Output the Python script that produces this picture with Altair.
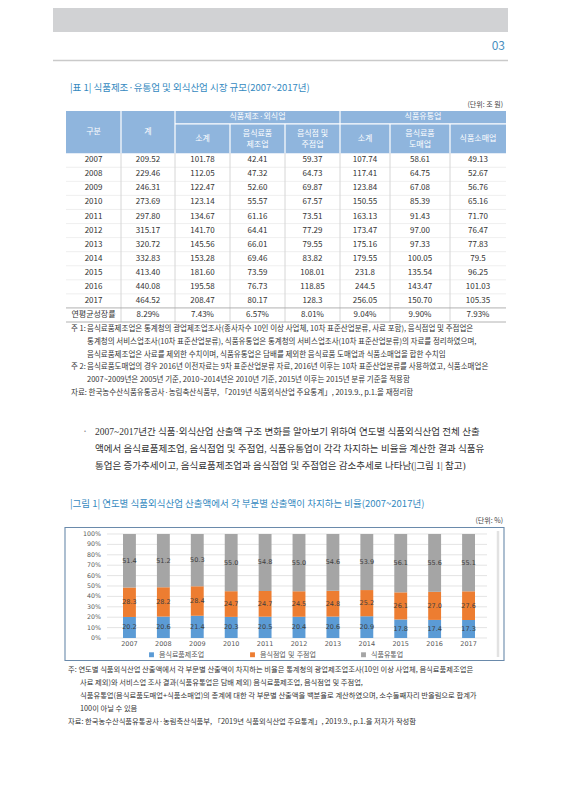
import altair as alt
import pandas as pd

KR = "Noto Sans CJK KR"
CH = "DejaVu Sans, Noto Sans CJK KR"
PARA = "Liberation Serif, Noto Sans CJK KR"
W = 554

# ---------------- data ----------------
page_no = "03"
table_title = "|표 1| 식품제조·유통업 및 외식산업 시장 규모(2007~2017년)"
table_unit = "(단위: 조 원)"
group_heads = ["식품제조·외식업", "식품유통업"]
col_heads = ["구분", "계", "소계", "음식료품\n제조업", "음식점 및\n주점업", "소계", "음식료품\n도매업", "식품소매업"]
years = ["2007", "2008", "2009", "2010", "2011", "2012", "2013", "2014", "2015", "2016", "2017"]
col_total = ["209.52", "229.46", "246.31", "273.69", "297.80", "315.17", "320.72", "332.83", "413.40", "440.08", "464.52"]
col_mfg_sub = ["101.78", "112.05", "122.47", "123.14", "134.67", "141.70", "145.56", "153.28", "181.60", "195.58", "208.47"]
col_food_mfg = ["42.41", "47.32", "52.60", "55.57", "61.16", "64.41", "66.01", "69.46", "73.59", "76.73", "80.17"]
col_restaurant = ["59.37", "64.73", "69.87", "67.57", "73.51", "77.29", "79.55", "83.82", "108.01", "118.85", "128.3"]
col_dist_sub = ["107.74", "117.41", "123.84", "150.55", "163.13", "173.47", "175.16", "179.55", "231.8", "244.5", "256.05"]
col_wholesale = ["58.61", "64.75", "67.08", "85.39", "91.43", "97.00", "97.33", "100.05", "135.54", "143.47", "150.70"]
col_retail = ["49.13", "52.67", "56.76", "65.16", "71.70", "76.47", "77.83", "79.5", "96.25", "101.03", "105.35"]
growth_label = "연평균성장률"
growth = ["8.29%", "7.43%", "6.57%", "8.01%", "9.04%", "9.90%", "7.93%"]

note1_label = "주 1:"
note1 = ["음식료품제조업은 통계청의 광업제조업조사(종사자수 10인 이상 사업체, 10차 표준산업분류, 사료 포함), 음식점업 및 주점업은",
         "통계청의 서비스업조사(10차 표준산업분류), 식품유통업은 통계청의 서비스업조사(10차 표준산업분류)의 자료를 정리하였으며,",
         "음식료품제조업은 사료를 제외한 수치이며, 식품유통업은 담배를 제외한 음식료품 도매업과 식품소매업을 합한 수치임"]
note2_label = "주 2:"
note2 = ["음식료품도매업의 경우 2016년 이전자료는 9차 표준산업분류 자료, 2016년 이후는 10차 표준산업분류를 사용하였고, 식품소매업은",
         "2007~2009년은 2005년 기준, 2010~2014년은 2010년 기준, 2015년 이후는 2015년 분류 기준을 적용함"]
table_source = "자료: 한국농수산식품유통공사·농림축산식품부, 「2019년 식품외식산업 주요통계」, 2019.9., p.1.을 재정리함"

bullet = "·"
paragraph = ["2007~2017년간 식품·외식산업 산출액 구조 변화를 알아보기 위하여 연도별 식품외식산업 전체 산출",
             "액에서 음식료품제조업, 음식점업 및 주점업, 식품유통업이 각각 차지하는 비율을 계산한 결과 식품유",
             "통업은 증가추세이고, 음식료품제조업과 음식점업 및 주점업은 감소추세로 나타남(|그림 1| 참고)"]

fig_title = "|그림 1| 연도별 식품외식산업 산출액에서 각 부문별 산출액이 차지하는 비율(2007~2017년)"
fig_unit = "(단위: %)"
series = ["음식료품제조업", "음식점업 및 주점업", "식품유통업"]
share_food_mfg = [20.2, 20.6, 21.4, 20.3, 20.5, 20.4, 20.6, 20.9, 17.8, 17.4, 17.3]
share_restaurant = [28.3, 28.2, 28.4, 24.7, 24.7, 24.5, 24.8, 25.2, 26.1, 27.0, 27.6]
share_distribution = [51.4, 51.2, 50.3, 55.0, 54.8, 55.0, 54.6, 53.9, 56.1, 55.6, 55.1]
y_ticks = [0.0, 0.1, 0.2, 0.3, 0.4, 0.5, 0.6, 0.7, 0.8, 0.9, 1.0]
y_tick_labels = ["0%", "10%", "20%", "30%", "40%", "50%", "60%", "70%", "80%", "90%", "100%"]

fig_notes = ["주: 연도별 식품외식산업 산출액에서 각 부문별 산출액이 차지하는 비율은 통계청의 광업제조업조사(10인 이상 사업체, 음식료품제조업은",
             "사료 제외)와 서비스업 조사 결과(식품유통업은 담배 제외) 음식료품제조업, 음식점업 및 주점업,",
             "식품유통업(음식료품도매업+식품소매업)의 총계에 대한 각 부문별 산출액을 백분율로 계산하였으며, 소수둘째자리 반올림으로 합계가",
             "100이 아닐 수 있음"]
fig_source = "자료:  한국농수산식품유통공사·농림축산식품부, 「2019년 식품외식산업 주요통계」, 2019.9., p.1.을 저자가 작성함"

# ---------------- styles / layout ----------------
BLUE_TITLE = "#3489c0"
TXT = "#333333"
HEAD_BG = "#8fb5dd"
BAR_COLORS = ["#5b9bd5", "#ed7d31", "#a5a5a5"]
H1, H2, H3, H4, H5 = 103, 211, 205, 134, 74

one = pd.DataFrame({"k": [0]})


def text_block(s, x, y, size, color=TXT, align="left", font=KR, lh=None):
    df = pd.DataFrame({"t": [s]})
    props = dict(align=align, baseline="top", fontSize=size, color=color, font=font)
    if lh:
        props.update(lineBreak="\n", lineHeight=lh)
    return alt.Chart(df).mark_text(**props).encode(
        text="t:N", x=alt.value(x), y=alt.value(y - 0.41 * size))


# ---------------- panel 1: header + table title ----------------
band = alt.Chart(one).mark_rect(color="#d1d2d4").encode(
    x=alt.value(45), x2=alt.value(500), y=alt.value(0), y2=alt.value(24))
hline = alt.Chart(one).mark_rule(color="#cacaca", strokeWidth=1.5).encode(
    x=alt.value(45), x2=alt.value(500), y=alt.value(52.5))
p1 = alt.layer(
    band, hline,
    text_block(page_no, 497, 37.5, 12, color="#4a8fc0", align="right"),
    text_block(table_title, 62, 79, 9.5, color=BLUE_TITLE),
    text_block(table_unit, 495, 96, 7, color="#444444", align="right"),
).properties(width=W, height=H1)

# ---------------- panel 2: table ----------------
E = [58, 113, 167, 222, 277, 332, 382, 442, 498]
R1 = 0.92
xs = alt.Scale(domain=[0, W], nice=False, zero=False)
ys = alt.Scale(domain=[0, 15], reverse=True, nice=False, zero=False)

head_bg = pd.DataFrame({"x0": [E[0]], "x1": [E[-1]], "y0": [0], "y1": [3]})
white_lines = pd.DataFrame(
    [{"x0": E[i], "x1": E[i], "y0": 0, "y1": 3} for i in (1, 2, 5)]
    + [{"x0": E[i], "x1": E[i], "y0": R1, "y1": 3} for i in (3, 4, 6, 7)]
    + [{"x0": E[2], "x1": E[8], "y0": R1, "y1": R1}])
vlines = pd.DataFrame([{"x0": E[i], "x1": E[i], "y0": 3, "y1": 15} for i in range(1, 8)])
faint = pd.DataFrame([{"x0": E[0], "x1": E[8], "y0": 3 + i, "y1": 3 + i} for i in range(1, 11)])
strong = pd.DataFrame([{"x0": E[0], "x1": E[8], "y0": v, "y1": v} for v in (14, 15)])

cols = [years, col_total, col_mfg_sub, col_food_mfg, col_restaurant, col_dist_sub, col_wholesale, col_retail]
cells = []
for r in range(len(years)):
    for c in range(8):
        cells.append({"xc": (E[c] + E[c + 1]) / 2, "yc": 3.5 + r, "t": cols[c][r]})
growth_row = [growth_label] + growth
for c in range(8):
    cells.append({"xc": (E[c] + E[c + 1]) / 2, "yc": 14.5, "t": growth_row[c]})
cells = pd.DataFrame(cells)

head_single = pd.DataFrame([
    {"xc": (E[0] + E[1]) / 2, "yc": 1.5, "t": col_heads[0]},
    {"xc": (E[1] + E[2]) / 2, "yc": 1.5, "t": col_heads[1]},
    {"xc": (E[2] + E[5]) / 2, "yc": R1 / 2, "t": group_heads[0]},
    {"xc": (E[5] + E[8]) / 2, "yc": R1 / 2, "t": group_heads[1]},
] + [{"xc": (E[c] + E[c + 1]) / 2, "yc": (R1 + 3) / 2, "t": col_heads[c]}
     for c in range(2, 8) if "\n" not in col_heads[c]])
head_multi = pd.DataFrame([{"xc": (E[c] + E[c + 1]) / 2, "yc": (R1 + 3) / 2, "t": col_heads[c]}
                           for c in range(2, 8) if "\n" in col_heads[c]])


def seg(df, **kw):
    return alt.Chart(df).mark_rule(**kw).encode(
        x=alt.X("x0:Q", scale=xs, axis=None), x2="x1:Q",
        y=alt.Y("y0:Q", scale=ys, axis=None), y2="y1:Q")


tbl_bg = alt.Chart(head_bg).mark_rect(color=HEAD_BG).encode(
    x=alt.X("x0:Q", scale=xs, axis=None), x2="x1:Q",
    y=alt.Y("y0:Q", scale=ys, axis=None), y2="y1:Q")
tbl_cells = alt.Chart(cells).mark_text(fontSize=8, font=KR, color=TXT, baseline="middle").encode(
    x=alt.X("xc:Q", scale=xs, axis=None), y=alt.Y("yc:Q", scale=ys, axis=None), text="t:N")
tbl_head1 = alt.Chart(head_single).mark_text(fontSize=8, font=KR, color="white", baseline="middle").encode(
    x=alt.X("xc:Q", scale=xs, axis=None), y=alt.Y("yc:Q", scale=ys, axis=None), text="t:N")
tbl_head2 = alt.Chart(head_multi).mark_text(
    fontSize=8, font=KR, color="white", baseline="top", lineBreak="\n", lineHeight=11.5,
    dy=-(11.5 / 2) - 0.41 * 8).encode(
    x=alt.X("xc:Q", scale=xs, axis=None), y=alt.Y("yc:Q", scale=ys, axis=None), text="t:N")

p2 = alt.layer(
    tbl_bg,
    seg(white_lines, color="white", strokeWidth=1.2),
    seg(faint, color="#ebebeb", strokeWidth=0.8),
    seg(vlines, color="#d6d6d6", strokeWidth=1),
    seg(strong, color="#a9a9a9", strokeWidth=0.9),
    tbl_head1, tbl_head2, tbl_cells,
).properties(width=W, height=H2)

# ---------------- panel 3: notes, paragraph, figure title ----------------
p3 = alt.layer(
    text_block(note1_label, 63, 6, 7.5),
    text_block("\n".join(note1), 79, 6, 7.5, lh=12.8),
    text_block(note2_label, 63, 6 + 3 * 12.8, 7.5),
    text_block("\n".join(note2), 79, 6 + 3 * 12.8, 7.5, lh=12.8),
    text_block(table_source, 63, 6 + 5 * 12.8, 7.5),
    text_block(bullet, 77, 109, 10, color="#888888", align="center"),
    text_block("\n".join(paragraph), 87, 109, 9.5, font=PARA, lh=17),
    text_block(fig_title, 62, 181, 9.5, color=BLUE_TITLE),
    text_block(fig_unit, 495, 198, 7, color="#444444", align="right"),
).properties(width=W, height=H3)

# ---------------- panel 4: stacked bar chart ----------------
bar_rows = []
for i, y in enumerate(years):
    for k, vals in enumerate([share_food_mfg, share_restaurant, share_distribution]):
        bar_rows.append({"year": y, "series": series[k], "value": vals[i], "ord": k})
bar_df = pd.DataFrame(bar_rows)
tick_df = pd.DataFrame({"t": y_ticks, "lab": y_tick_labels})
year_df = pd.DataFrame({"year": years})

xsc = alt.Scale(domain=years, range=[104.5, 477.5], paddingInner=0.62, paddingOuter=0.31)
ysc = alt.Scale(domain=[0, 1], range=[111, 7], nice=False, zero=False)

box = alt.Chart(one).mark_rect(fill="white", stroke="#6a8aab", strokeWidth=1.1).encode(
    x=alt.value(57), x2=alt.value(496), y=alt.value(0.5), y2=alt.value(133.5))
shade = alt.Chart(one).mark_rule(color="#e2e2e2", strokeWidth=2.5).encode(
    x=alt.value(490), y=alt.value(4), y2=alt.value(130))
grid = alt.Chart(tick_df).mark_rule(color="#d9d9d9", strokeWidth=0.7).encode(
    y=alt.Y("t:Q", scale=ysc, axis=None), x=alt.value(99), x2=alt.value(479))
ylab = alt.Chart(tick_df).mark_text(align="right", baseline="middle", fontSize=6.3, font=CH,
                                    color="#595959").encode(
    y=alt.Y("t:Q", scale=ysc, axis=None), x=alt.value(93), text="lab:N")

stacked = alt.Chart(bar_df).transform_stack(
    stack="value", groupby=["year"], as_=["v0", "v1"], offset="normalize",
    sort=[alt.SortField("ord", order="ascending")]
).transform_calculate(mid="(datum.v0 + datum.v1) / 2")

# legend sits at the top level of the page layout, so its position is page-relative
LEG_Y = H1 + H2 + H3 + 124
bars = stacked.mark_bar().encode(
    x=alt.X("year:O", scale=xsc, axis=None),
    y=alt.Y("v0:Q", scale=ysc, axis=None), y2="v1:Q",
    color=alt.Color("series:N", scale=alt.Scale(domain=series, range=BAR_COLORS),
                    legend=alt.Legend(orient="none", legendX=140, legendY=LEG_Y, direction="horizontal",
                                      title=None, symbolType="square", symbolSize=24,
                                      symbolStrokeWidth=0, labelFontSize=7, labelFont=CH,
                                      labelColor="#595959", columnPadding=44, labelOffset=4,
                                      padding=0)))
bar_labels = stacked.mark_text(fontSize=6.5, font=CH, color="#404040", baseline="middle").encode(
    x=alt.X("year:O", scale=xsc, axis=None),
    y=alt.Y("mid:Q", scale=ysc, axis=None),
    text=alt.Text("value:Q", format=".1f"))
xlab = alt.Chart(year_df).mark_text(fontSize=6.5, font=CH, color="#595959", baseline="middle").encode(
    x=alt.X("year:O", scale=xsc, axis=None), y=alt.value(117), text="year:N")

p4 = alt.layer(box, shade, grid, ylab, bars, bar_labels, xlab).properties(width=W, height=H4)

# ---------------- panel 5: figure notes ----------------
p5 = alt.layer(
    text_block(fig_notes[0], 60, 8, 7.3),
    text_block("\n".join(fig_notes[1:]), 72, 21, 7.3, lh=13),
    text_block(fig_source, 60, 60, 7.3),
).properties(width=W, height=H5)

chart = alt.vconcat(p1, p2, p3, p4, p5, spacing=0, bounds="flush").configure_view(
    strokeWidth=0).properties(padding=0, background="white")

chart.save("out.html", embed_options={"renderer": "svg", "actions": False})
